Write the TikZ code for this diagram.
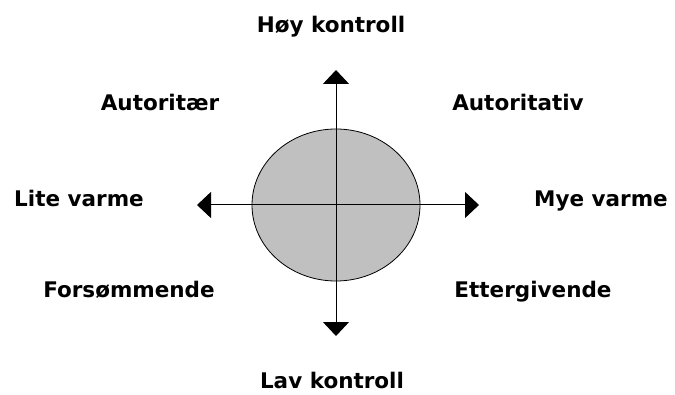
\documentclass[tikz,border=0pt]{standalone}
\usepackage{fontspec}
\setmainfont{DejaVu Sans}
\usetikzlibrary{arrows.meta}
\tikzset{
  lbl/.style={inner sep=0pt, anchor=base, font=\fontsize{21.5pt}{24pt}\selectfont\bfseries},
  axis/.style={line width=1pt, -{Triangle[length=14pt,width=26pt]}},
  blob/.style={draw=black, line width=0.8pt, fill=gray!50!white, dash pattern=on 1.5pt off 0.4pt}
}
\begin{document}
\begin{tikzpicture}[x=1pt,y=1pt]
\useasboundingbox (0,0) rectangle (675,394);
\coordinate (c) at (336,189);
\filldraw[draw=black, line width=0.8pt, fill={rgb,255:red,192;green,192;blue,192}] (c) ellipse [x radius=84, y radius=76];
\coordinate (top) at (336,324);
\coordinate (bot) at (336,58);
\coordinate (lft) at (197,189);
\coordinate (rgt) at (479,189);
\draw[axis] (c) -- (top);
\draw[axis] (c) -- (bot);
\draw[axis] (c) -- (lft);
\draw[axis] (c) -- (rgt);
\node[lbl] (hk) at (331,361) {Høy kontroll};
\node[lbl] (at) at (160,283) {Autoritær};
\node[lbl] (av) at (518,283) {Autoritativ};
\node[lbl] (lv) at (79,187) {Lite varme};
\node[lbl] (mv) at (601,187) {Mye varme};
\node[lbl] (fo) at (129,96) {Forsømmende};
\node[lbl] (et) at (533,96) {Ettergivende};
\node[lbl] (lk) at (332,6) {Lav kontroll};
\end{tikzpicture}
\end{document}
